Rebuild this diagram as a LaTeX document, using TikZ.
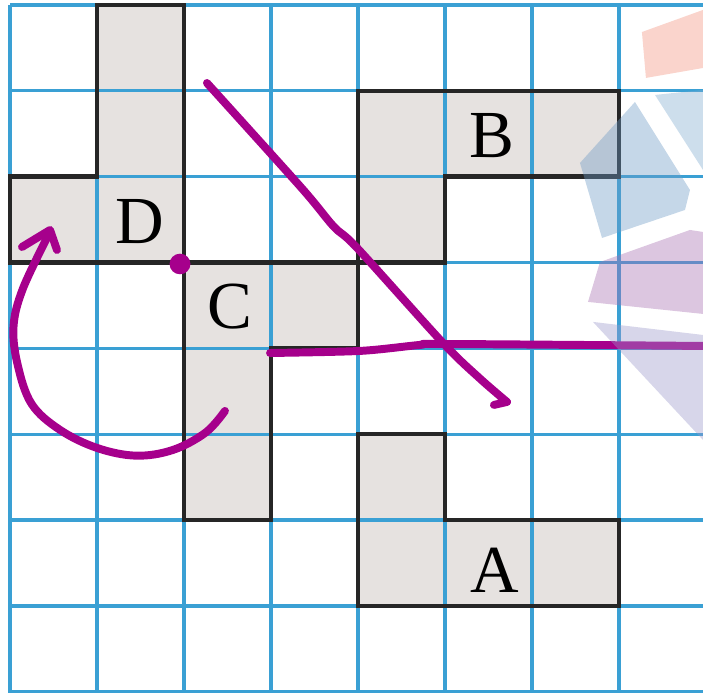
\documentclass[tikz,border=0pt]{standalone}
\usepackage{fontspec}
\setmainfont{Liberation Serif}
\usepackage{tikz}
\definecolor{gridblue}{RGB}{58,160,212}
\definecolor{tilegrey}{RGB}{230,226,224}
\definecolor{penmag}{RGB}{166,0,140}
\definecolor{wmpink}{RGB}{242,148,128}
\definecolor{wmblue}{RGB}{110,155,197}
\definecolor{wmsky}{RGB}{130,172,207}
\definecolor{wmpurple}{RGB}{167,112,177}
\definecolor{wmlav}{RGB}{155,152,202}
\tikzset{
  gridline/.style={draw=gridblue, line width=1.1pt},
  tile/.style={draw=black!85, line width=1.45pt, line join=miter},
  letter/.style={font=\fontsize{22}{24}\selectfont, inner sep=0pt},
  pen/.style={draw=penmag, line width=2.6pt, line cap=round, line join=round},
  wm/.style={fill opacity=0.4}
}

\begin{document}
\begin{tikzpicture}[x=1cm, y={(0,-0.9868cm)}]
  \useasboundingbox (-0.115,-0.058) rectangle (7.966,8.014);
  \clip (-0.115,-0.058) rectangle (7.966,8.014);

  % grey tiles
  \fill[tilegrey] (1,0) -- (2,0) -- (2,3) -- (0,3) -- (0,2) -- (1,2) -- cycle;
  \fill[tilegrey] (2,3) -- (4,3) -- (4,4) -- (3,4) -- (3,6) -- (2,6) -- cycle;
  \fill[tilegrey] (4,1) -- (7,1) -- (7,2) -- (5,2) -- (5,3) -- (4,3) -- cycle;
  \fill[tilegrey] (4,5) -- (5,5) -- (5,6) -- (7,6) -- (7,7) -- (4,7) -- cycle;

  % squared paper
  \foreach \i in {0,...,8} {
    \draw[gridline] (\i,0) -- (\i,8.1);
    \draw[gridline] (0,\i) -- (8.1,\i);
  }

  % outlines
  \draw[tile] (1,0) -- (2,0) -- (2,3) -- (0,3) -- (0,2) -- (1,2) -- cycle;
  \draw[tile] (2,3) -- (4,3) -- (4,4) -- (3,4) -- (3,6) -- (2,6) -- cycle;
  \draw[tile] (4,1) -- (7,1) -- (7,2) -- (5,2) -- (5,3) -- (4,3) -- cycle;
  \draw[tile] (4,5) -- (5,5) -- (5,6) -- (7,6) -- (7,7) -- (4,7) -- cycle;

  \node[letter] (labD) at (1.494,2.527) {D};
  \node[letter] (labC) at (2.529,3.518) {C};
  \node[letter] (labB) at (5.540,1.526) {B};
  \node[letter] (labA) at (5.575,6.581) {A};

  % pen marks
  \fill[penmag] (1.954,3.017) circle (0.12);
  \draw[pen] plot[smooth, tension=0.5] coordinates {(2.264,0.909) (3.35,2.13)
    (3.72,2.58) (3.99,2.83) (4.977,3.937) (5.40,4.35) (5.713,4.624)}
    -- (5.563,4.659);
  \draw[pen] plot[smooth, tension=0.5] coordinates {(2.989,4.054) (4.023,4.030)
    (4.713,3.960) (5.0,3.949) (7.966,3.972) (8.1,3.975)};
  \draw[pen] plot[smooth, tension=0.6] coordinates {(2.471,4.729) (2.25,4.98)
    (1.874,5.183) (1.45,5.25) (1.0,5.16) (0.575,4.950) (0.25,4.65) (0.09,4.2)
    (0.04,3.75) (0.15,3.3) (0.460,2.644)};
  \draw[pen] (0.138,2.819) -- (0.460,2.621) -- (0.540,2.854);

  % faint logo at the right
  \fill[wm, wmpink] (7.264,0.315) -- (7.966,0.058) -- (7.966,0.734) -- (7.310,0.850) -- cycle;
  \fill[wm, wmsky] (7.414,1.048) -- (7.966,0.990) -- (7.966,1.922) -- cycle;
  \fill[wm, wmblue] (6.552,1.840) -- (7.184,1.130) -- (7.816,2.155) -- (7.759,2.388) -- (6.805,2.714) -- cycle;
  \fill[wm, wmpurple] (6.782,2.994) -- (7.816,2.621) -- (7.966,2.644) -- (7.966,3.599) -- (6.644,3.459) -- cycle;
  \fill[wm, wmlav] (6.701,3.692) -- (7.966,3.844) -- (7.966,5.067) -- cycle;
\end{tikzpicture}
\end{document}
